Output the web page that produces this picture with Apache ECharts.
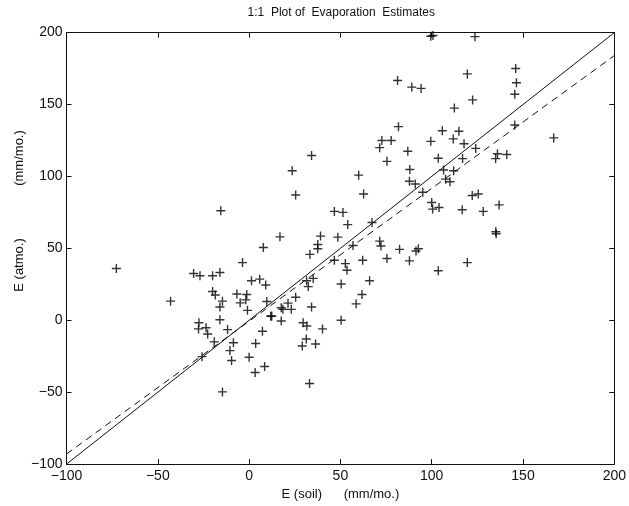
<!DOCTYPE html>
<html>
<head>
<meta charset="utf-8">
<script src="https://cdn.jsdelivr.net/npm/echarts@6/dist/echarts.min.js"></script>
<style>
  html, body { margin: 0; padding: 0; background: #fff; }
  #chart { width: 629px; height: 506px; }
</style>
</head>
<body>
<div id="chart"></div>
<script>
// Monthly evaporation: soil-based estimate (x) vs atmospheric estimate (y), mm/mo.
const soilE = [
  -72.7, -43, -30.4, -26.9, -20, -16, -3.6, 1.3, 5.8, 9.1, -20, -18.5, -14.6, -16, -16,
  -6.7, -4.9, -1.3, -1.8, -0.9, 9.7, 11.8, 7.3, -11.8, -27.5, -27.7, -23.6, -22.7, -19.1,
  -8.6, -10.5, -9.6, -25.8, 0, 3.6, 8.5, 3.3, -14.6, 17.6, 29.6, 31.6, 40.2, 31.3, 29.1,
  36.4, 33.1,
  16.9, 39.1, 48.6, 37.6, 37.6, 56.9, 33.3, 46.7, 52.7, 53.6, 62.2, 31.5, 35.1, 32.4,
  50.4, 61.8, 58.6, 25.5, 21.3, 17.6, 18.5, 23.1, 34.2, 12.4, 50.4, 7.8, 54,
  34.2, 23.6, 25.5, -15.5, 46.7, 51.4, 60, 62.7, 67.3, 72.7, 77.8, 71.5, 75.5,
  81.3, 89.1, 94.2, 119.5, 146, 146.4, 145.5, 122.4, 112.4, 81.8, 145.5, 105.8, 114.9,
  111.8, 99.5, 117.7, 86.9, 124.1, 103.6, 116.9, 136, 141.1, 135, 88, 106.5, 112, 87.8,
  91, 107.6, 110, 95.1, 122.2, 125.5, 100, 100.5, 104, 116.7, 128.2, 136.9, 135.1, 135.3,
  166.8, 99.5, 100.7, 123.7,
  71.5, 72.2, 82.4, 92.7, 91.4, 75.5, 87.8, 119.5, 103.6, 66
];
const atmoE = [
  36, 13.3, 32.5, 31, 31, 33.2, 40.1, 27.5, 28.6, 24.5, 20, 17.6, 13.3, 9.2, 0.4,
  18.3, 12.1, 17.9, 14.2, 6.9, 13.1, 2.8, -7.6, -6.5, -1.7, -6, -5.2, -9.6, -15,
  -15.6, -21.1, -28, -25.3, -25.7, -16.1, -32.1, -36.3, -49.8, -0.5, -1.7, -4, -6, -13, -17.9,
  -16.5, -44,
  58, 58.5, 57.8, 52.7, 49.7, 52, 45.8, 41.7, 39.4, 34.8, 41.7, 27.5, 29.1, 23.4,
  25.2, 17.9, 11.4, 16, 11.9, 8.7, 7.6, 7.6, 9.2, 3, 0, 50.6, 66.5,
  114.6, 103.9, 87.1, 76.1, 75.7, 75, 100.9, 87.8, 68, 125, 125, 120, 110.5,
  166.7, 162.1, 161.2, 171.3, 175, 165.1, 157.1, 153.2, 147.5, 134.6, 135.8, 131.8, 131.4,
  126.1, 124.4, 122.7, 117.5, 119.5, 112.6, 112.4, 115.8, 115.3, 112.4, 104.8, 104.5, 103.9, 96.7,
  94.7, 98.1, 96.3, 89, 86.7, 87.8, 81.9, 77.3, 78.4, 76.8, 75.7, 80.2, 61.5, 60.2,
  126.8, 197.5, 198, 197.2,
  55, 51.6, 49.3, 49.7, 48.2, 42.9, 41.3, 40.1, 34.4, 27.5
];

// 1:1 reference line and fitted (dashed) line end points
const oneToOneX = [-100, 200];
const oneToOneY = [-100, 200];
const fitX = [-100, 200];
const fitY = [-93, 184];

// Shared axis range and tick step
const axisMin = -100;
const axisMax = 200;
const tickStep = 50;

const titleText = '1:1  Plot of  Evaporation  Estimates';
const xName = 'E (soil)      (mm/mo.)';
const yNameQty = 'E (atmo.)';
const yNameUnit = '(mm/mo.)';

const FONT = '"Liberation Sans", Arial, Helvetica, sans-serif';
const INK = '#111';

// Plot box in pixels
const GRID = { left: 66.5, right: 13, top: 32.6, bottom: 35 };
const plotCenterX = GRID.left + (629 - GRID.left - GRID.right) / 2;

const fmt = v => String(v).replace('-', '\u2212');

const baseAxis = {
  type: 'value',
  min: axisMin,
  max: axisMax,
  interval: tickStep,
  splitLine: { show: false },
  axisLine: { show: true, onZero: false, lineStyle: { color: INK, width: 1 } },
  axisTick: { show: true, inside: true, length: 5, lineStyle: { color: INK, width: 1 } }
};

const label = { color: INK, fontFamily: FONT, fontSize: 14, formatter: fmt };

// Thin "+" marker
const plusPath = 'path://M4.22,0H5.78V4.22H10V5.78H5.78V10H4.22V5.78H0V4.22H4.22Z';

const chart = echarts.init(document.getElementById('chart'), null, { renderer: 'canvas' });

chart.setOption({
  animation: false,
  backgroundColor: '#fff',
  grid: Object.assign({ containLabel: false }, GRID),
  xAxis: [
    Object.assign({}, baseAxis, {
      position: 'bottom',
      axisLabel: Object.assign({}, label, { margin: 5 }),
      name: xName,
      nameLocation: 'middle',
      nameGap: 22,
      nameTextStyle: { fontFamily: FONT, fontSize: 13, color: INK }
    }),
    Object.assign({}, baseAxis, { position: 'top', axisLabel: { show: false } })
  ],
  yAxis: [
    Object.assign({}, baseAxis, {
      position: 'left',
      axisLabel: Object.assign({}, label, { margin: 4 })
    }),
    Object.assign({}, baseAxis, { position: 'right', axisLabel: { show: false } })
  ],
  graphic: [
    {
      type: 'text',
      x: plotCenterX,
      y: 13,
      style: {
        text: titleText, fontFamily: FONT, fontSize: 12, fill: INK,
        align: 'center', verticalAlign: 'middle'
      }
    },
    {
      type: 'text',
      x: 19,
      y: 265,
      rotation: Math.PI / 2,
      style: {
        text: yNameQty, fontFamily: FONT, fontSize: 13, fill: INK,
        align: 'center', verticalAlign: 'middle'
      }
    },
    {
      type: 'text',
      x: 19,
      y: 158,
      rotation: Math.PI / 2,
      style: {
        text: yNameUnit, fontFamily: FONT, fontSize: 13, fill: INK,
        align: 'center', verticalAlign: 'middle'
      }
    }
  ],
  series: [
    {
      type: 'line',
      data: oneToOneX.map((x, i) => [x, oneToOneY[i]]),
      showSymbol: false,
      lineStyle: { color: INK, width: 1 },
      silent: true
    },
    {
      type: 'line',
      data: fitX.map((x, i) => [x, fitY[i]]),
      showSymbol: false,
      lineStyle: { color: INK, width: 1, type: [7, 5] },
      silent: true
    },
    {
      type: 'scatter',
      data: soilE.map((x, i) => [x, atmoE[i]]),
      symbol: plusPath,
      symbolSize: 9,
      itemStyle: { color: '#000' },
      silent: true
    }
  ]
});
</script>
</body>
</html>
